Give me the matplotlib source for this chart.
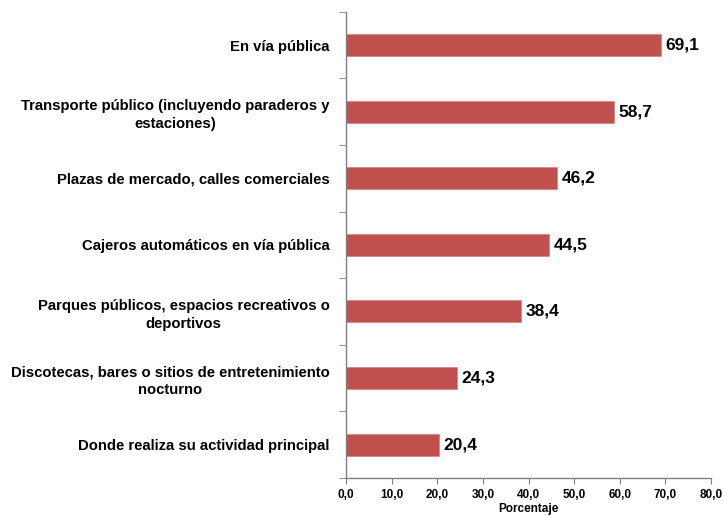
import matplotlib.pyplot as plt
import numpy as np
from matplotlib.ticker import FixedLocator

# datos
categorias = [
    'En vía pública',
    'Transporte público (incluyendo paraderos y\nestaciones)',
    'Plazas de mercado, calles comerciales',
    'Cajeros automáticos en vía pública',
    'Parques públicos, espacios recreativos o\ndeportivos',
    'Discotecas, bares o sitios de entretenimiento\nnocturno',
    'Donde realiza su actividad principal',
]
valores = [69.1, 58.7, 46.2, 44.5, 38.4, 24.3, 20.4]
xticks = [0, 10, 20, 30, 40, 50, 60, 70, 80]

plt.rcParams['font.family'] = ['Liberation Sans', 'DejaVu Sans']

fig = plt.figure(figsize=(7.24, 5.16), dpi=100)
ax = fig.add_axes([0.478, 0.074, 0.504, 0.903])

n = len(categorias)
ypos = np.arange(n)[::-1]
ax.barh(ypos, valores, height=0.33, color='#C0504D', edgecolor='#D98886', linewidth=0.6)

for y, v in zip(ypos, valores):
    ax.text(v + 1.0, y, f'{v:.1f}'.replace('.', ','), va='center', ha='left',
            fontsize=12.5, fontweight='bold', color='black')

ax.set_xlim(0, 80)
ax.set_ylim(-0.5, n - 0.5)
ax.set_xticks(xticks)
ax.set_xticklabels([f'{t:.1f}'.replace('.', ',') for t in xticks], fontsize=8.5, fontweight='bold')
ax.tick_params(axis='x', length=4, color='#808080', pad=4)

ax.set_yticks(ypos)
ax.set_yticklabels(categorias, fontsize=10.7, fontweight='bold', ha='right',
                   multialignment='center', linespacing=1.35)
ax.tick_params(axis='y', which='major', length=0, pad=12)
ax.yaxis.set_minor_locator(FixedLocator(np.arange(-0.5, n, 1.0)))
ax.tick_params(axis='y', which='minor', length=5, color='#808080')

for s in ['top', 'right']:
    ax.spines[s].set_visible(False)
for s in ['left', 'bottom']:
    ax.spines[s].set_color('#808080')
    ax.spines[s].set_linewidth(1.0)

ax.set_xlabel('Porcentaje', fontsize=8.5, fontweight='bold', labelpad=1.5)

fig.savefig('out.png', dpi=100)
